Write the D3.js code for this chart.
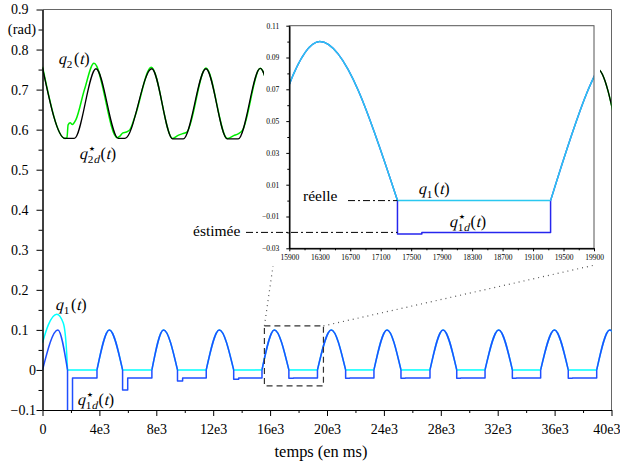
<!DOCTYPE html>
<meta charset="utf-8">
<style>
body { margin: 0; background: #fff; }
svg { display: block; }
svg text { font-family: "Liberation Serif", serif; }
.axis path, .axis line { stroke: #000; }
.curve { fill: none; stroke-linejoin: round; }
</style>
<body>
<script src="https://d3js.org/d3.v7.min.js"></script>
<script>
// ---- axis ticks ----
var yTicks = [-0.1, 0, 0.1, 0.2, 0.3, 0.4, 0.5, 0.6, 0.7, 0.8, 0.9];
var yTickLabels = ["\u22120.1", "0", "0.1", "0.2", "0.3", "0.4", "0.5", "0.6", "0.7", "0.8", "0.9"];
var xTicks = [0, 4000, 8000, 12000, 16000, 20000, 24000, 28000, 32000, 36000, 40000];
var xTickLabels = ["0", "4e3", "8e3", "12e3", "16e3", "20e3", "24e3", "28e3", "32e3", "36e3", "40e3"];
var insetXTicks = [15900, 16300, 16700, 17100, 17500, 17900, 18300, 18700, 19100, 19500, 19900];
var insetYTicks = [-0.03, -0.01, 0.01, 0.03, 0.05, 0.07, 0.09, 0.11];
var insetYLabels = ["\u22120.03", "\u22120.01", "0.01", "0.03", "0.05", "0.07", "0.09", "0.11"];

// ---- q1 / q1d* : bumps (ms) and levels (rad) ----
var bumpStart = [0, 3830, 7690, 11510, 15430, 19330, 23300, 27240, 31110, 35020, 38960];
var bumpPeak  = [1080, 4700, 8510, 12430, 16300, 20300, 24220, 28160, 32070, 35990, 39880];
var bumpEnd   = [1760, 5630, 9490, 13440, 17320, 21310, 25200, 29120, 33030, 36960, 40900];
var bumpTop   = 0.1;
// q1d* after each bump: short dip, then flat level until next bump
var dipLevel  = [-0.3, -0.05, -0.0275, -0.023, -0.021, -0.0205, -0.0205, -0.0205, -0.0205, -0.0205];
var dipEnd    = [2110, 5990, 9850, 13790, 17640, 21600, 25500, 29400, 33300, 37250];
var flatLevel = [-0.02, -0.02, -0.02, -0.02, -0.02, -0.02, -0.02, -0.02, -0.02, -0.02];
// real q1 during first bump
var q1FirstT = [0, 410, 1000, 1460, 1700, 1760];
var q1FirstV = [0.068, 0.1125, 0.139, 0.117, 0.042, 0];

// ---- q2d* (black) key points ----
var q2dT = [0, 1580, 2235, 3760, 5330, 5800, 7680, 9150, 9900, 11490, 12990, 13760, 15310,
            16870, 17600, 19220, 20790, 21520, 23170, 24740, 25470, 27120, 28690, 29420,
            31070, 32640, 33370, 35030, 36600, 37330, 39000, 40500];
var q2dV = [0.754, 0.578, 0.578, 0.752, 0.578, 0.578, 0.752, 0.577, 0.577, 0.752, 0.577, 0.577, 0.753,
            0.577, 0.577, 0.752, 0.577, 0.577, 0.752, 0.577, 0.577, 0.752, 0.577, 0.577,
            0.752, 0.577, 0.577, 0.752, 0.577, 0.577, 0.752, 0.577];
// ---- q2 (green) key points, before the inset; follows q2d* afterwards ----
var q2T = [0, 1580, 1720, 1800, 1950, 2100, 2350, 2950, 3620, 5250, 5420, 5650, 5900, 6150, 6500,
           7650, 9150, 9500, 9850, 10150, 11490, 12990, 13440, 13780, 14050, 15310];
var q2V = [0.757, 0.578, 0.58, 0.612, 0.617, 0.613, 0.625, 0.70, 0.766, 0.58, 0.583, 0.592, 0.594, 0.60, 0.633,
           0.756, 0.578, 0.585, 0.59, 0.594, 0.754, 0.578, 0.585, 0.59, 0.598, 0.753];

// zoom window drawn on the main plot: t0, t1, v0, v1
var zoomBox = [15600, 19750, -0.04, 0.11];

var width = 620, height = 463;
var SERIF = "Liberation Serif";
var svg = d3.select("body").append("svg").attr("width", width).attr("height", height);

var x = d3.scaleLinear().domain([0, 40000]).range([42.5, 611.5]);
var y = d3.scaleLinear().domain([-0.1, 0.9]).range([410, 9.5]);

svg.append("clipPath").attr("id", "clipMain").append("rect")
    .attr("x", 42.5).attr("y", 9.5).attr("width", 569).attr("height", 400.5);

// frame (top / right)
svg.append("path").attr("d", "M42.5,9.5H611.5V410").attr("fill", "none").attr("stroke", "#666");

var BLUE = "#1f4fff", CYAN = "#00ffff";

function pts(ts, vs) { return ts.map(function(t, i) { return [t, vs[i]]; }); }

function drawAll(g, sx, sy, blueOnTop, blue, cyan, w) {
  var smooth = d3.line().x(function(d) { return sx(d[0]); }).y(function(d) { return sy(d[1]); })
      .curve(d3.curveMonotoneX);
  var step = d3.line().x(function(d) { return sx(d[0]); }).y(function(d) { return sy(d[1]); })
      .curve(d3.curveStepAfter);

  var bumps = bumpStart.map(function(s, i) { return [[s, 0], [bumpPeak[i], bumpTop], [bumpEnd[i], 0]]; });

  function drawBlue() {
    bumps.forEach(function(b) {
      g.append("path").attr("class", "curve").attr("d", smooth(b)).attr("stroke", blue).attr("stroke-width", w);
    });
    dipLevel.forEach(function(dl, i) {
      var p = [[bumpEnd[i], 0], [bumpEnd[i], dl], [dipEnd[i], flatLevel[i]], [bumpStart[i + 1], 0]];
      g.append("path").attr("class", "curve").attr("d", step(p)).attr("stroke", blue).attr("stroke-width", w);
    });
  }
  function drawCyan() {
    g.append("path").attr("class", "curve").attr("d", smooth(pts(q1FirstT, q1FirstV)))
        .attr("stroke", cyan).attr("stroke-width", w);
    bumps.forEach(function(b, i) {
      if (i > 0) g.append("path").attr("class", "curve").attr("d", smooth(b)).attr("stroke", cyan).attr("stroke-width", w);
    });
    bumpEnd.forEach(function(e, i) {
      if (i + 1 < bumpStart.length)
        g.append("path").attr("class", "curve").attr("d", smooth([[e, 0], [bumpStart[i + 1], 0]]))
            .attr("stroke", cyan).attr("stroke-width", w);
    });
  }
  if (blueOnTop) { drawCyan(); drawBlue(); } else { drawBlue(); drawCyan(); }
}

// ---- main curves ----
var main = svg.append("g").attr("clip-path", "url(#clipMain)");
var line = d3.line().x(function(d) { return x(d[0]); }).y(function(d) { return y(d[1]); })
    .curve(d3.curveMonotoneX);

var green = pts(q2T, q2V).concat(pts(q2dT, q2dV).filter(function(d) { return d[0] > 15310; }));
main.append("path").attr("class", "curve").attr("d", line(green)).attr("stroke", "#00ee00").attr("stroke-width", 1.5);
main.append("path").attr("class", "curve").attr("d", line(pts(q2dT, q2dV))).attr("stroke", "#000").attr("stroke-width", 1.3);

drawAll(main, x, y, true, BLUE, CYAN, 1.5);

// ---- main axes ----
var yAxis = svg.append("g").attr("class", "axis").attr("transform", "translate(42.5,0)")
    .attr("font-family", SERIF)
    .call(d3.axisLeft(y).tickValues(yTicks).tickSize(6).tickSizeOuter(0).tickPadding(8)
      .tickFormat(function(d, i) { return yTickLabels[i]; }));
svg.append("g").attr("class", "axis").attr("transform", "translate(42.5,0)")
    .call(d3.axisLeft(y).tickValues(d3.range(-0.05, 0.9, 0.1)).tickSize(4).tickSizeOuter(0).tickFormat(""));
yAxis.selectAll("text").attr("font-size", 14)
    .attr("x", function(d) { return d > 0 ? -14 : -6.5; });
var xAxis = svg.append("g").attr("class", "axis").attr("transform", "translate(0,410)")
    .attr("font-family", SERIF);
xAxis.call(d3.axisBottom(x).tickValues(xTicks).tickSize(6).tickSizeOuter(0).tickPadding(8)
    .tickFormat(function(d, i) { return xTickLabels[i]; }));
svg.append("g").attr("class", "axis").attr("transform", "translate(0,410)")
    .call(d3.axisBottom(x).tickValues(d3.range(2000, 40000, 4000)).tickSize(3).tickSizeOuter(0).tickFormat(""));
xAxis.selectAll("text").attr("font-size", 14)
    .attr("text-anchor", function(d) { return d === 40000 ? "end" : "middle"; })
    .attr("x", function(d) { return d === 40000 ? 8.5 : 0; });

svg.append("text").attr("x", 36).attr("y", 34).attr("text-anchor", "end")
    .attr("font-size", 14.5).text("(rad)");
svg.append("text").attr("x", 321).attr("y", 457).attr("text-anchor", "middle")
    .attr("font-size", 16.4).text("temps (en ms)");

// ---- zoom window + connectors ----
svg.append("rect").attr("x", x(zoomBox[0])).attr("y", y(zoomBox[3]))
    .attr("width", x(zoomBox[1]) - x(zoomBox[0])).attr("height", y(zoomBox[2]) - y(zoomBox[3]))
    .attr("fill", "none").attr("stroke", "#333").attr("stroke-width", 1.2).attr("stroke-dasharray", "6,4");

// ---- inset ----
var ix = d3.scaleLinear().domain([15900, 19900]).range([289.3, 594]);
var iy = d3.scaleLinear().domain([-0.03, 0.11]).range([248.3, 25.7]);

svg.append("line").attr("x1", x(zoomBox[0])).attr("y1", y(zoomBox[3])).attr("x2", 273).attr("y2", 266)
    .attr("stroke", "#555").attr("stroke-width", 1.2).attr("stroke-dasharray", "1,4");
svg.append("line").attr("x1", x(zoomBox[1])).attr("y1", y(zoomBox[3])).attr("x2", 595).attr("y2", 265)
    .attr("stroke", "#555").attr("stroke-width", 1.2).attr("stroke-dasharray", "1,4");

svg.append("rect").attr("x", 264).attr("y", 12).attr("width", 336).attr("height", 253).attr("fill", "#fff");

svg.append("clipPath").attr("id", "clipInset").append("rect")
    .attr("x", 289.3).attr("y", 25.7).attr("width", 594 - 289.3).attr("height", 248.3 - 25.7);
var inset = svg.append("g").attr("clip-path", "url(#clipInset)");
drawAll(inset, ix, iy, false, "#2626ee", "#2ac8f0", 1.5);

svg.append("rect").attr("x", 289.3).attr("y", 25.7).attr("width", 594 - 289.3).attr("height", 248.3 - 25.7)
    .attr("fill", "none").attr("stroke", "#555");

var ixAxis = svg.append("g").attr("class", "axis").attr("transform", "translate(0,248.3)")
    .attr("font-family", SERIF)
    .call(d3.axisBottom(ix).tickValues(insetXTicks).tickSize(3).tickSizeOuter(0).tickPadding(3)
      .tickFormat(d3.format("d")));
svg.append("g").attr("class", "axis").attr("transform", "translate(0,248.3)")
    .call(d3.axisBottom(ix).tickValues(d3.range(16100, 19900, 400)).tickSize(2).tickSizeOuter(0).tickFormat(""));
ixAxis.selectAll("text").attr("font-size", 7.5);
var iyAxis = svg.append("g").attr("class", "axis").attr("transform", "translate(289.3,0)")
    .attr("font-family", SERIF)
    .call(d3.axisLeft(iy).tickValues(insetYTicks).tickSize(3).tickSizeOuter(0).tickPadding(7)
      .tickFormat(function(d, i) { return insetYLabels[i]; }));
svg.append("g").attr("class", "axis").attr("transform", "translate(289.3,0)")
    .call(d3.axisLeft(iy).tickValues(d3.range(-0.02, 0.11, 0.02)).tickSize(2).tickSizeOuter(0).tickFormat(""));
iyAxis.selectAll("text").attr("font-size", 7.5);

// dash-dot markers
svg.append("line").attr("x1", 348).attr("x2", ix(bumpEnd[4])).attr("y1", iy(0)).attr("y2", iy(0))
    .attr("stroke", "#000").attr("stroke-dasharray", "7,3,2,3");
svg.append("line").attr("x1", 246).attr("x2", ix(bumpEnd[4])).attr("y1", iy(-0.02)).attr("y2", iy(-0.02))
    .attr("stroke", "#000").attr("stroke-dasharray", "7,3,2,3");
svg.append("text").attr("x", 303).attr("y", 201).attr("font-size", 15.5).text("réelle");
svg.append("text").attr("x", 193).attr("y", 236).attr("font-size", 15.5).text("éstimée");

// ---- math labels (serif italic is not installed: slant the upright face) ----
function glyph(g, x0, y0, str, size, slant) {
  var t = g.append("text").attr("font-size", size)
      .attr("transform", "translate(" + x0 + "," + y0 + ")" + (slant ? " skewX(-14)" : ""))
      .text(str);
  return t.node().getComputedTextLength();
}
function mathLabel(x0, y0, num, d, star, size) {
  var g = svg.append("g");
  var cx = x0 + glyph(g, x0, y0, "q", size, true) + 0.8;
  var ss = size * 0.7, sy = y0 + size * 0.27;
  var w = glyph(g, cx, sy, num, ss, false);
  if (d) w += glyph(g, cx + w, sy, "d", ss, true);
  if (star) {
    var st = g.append("text").attr("x", cx).attr("y", y0 - size * 0.36)
        .attr("font-size", ss * 1.2).style("font-family", "DejaVu Sans").text("\u22C6");
    w = Math.max(w, st.node().getComputedTextLength());
  }
  cx += w + 1.5;
  cx += glyph(g, cx, y0, "(", size, false);
  cx += glyph(g, cx, y0, "t", size, true) + 0.5;
  glyph(g, cx, y0, ")", size, false);
}
mathLabel(58, 64, "2", false, false, 16);
mathLabel(79, 159, "2", true, true, 16);
mathLabel(55, 310, "1", false, false, 16);
mathLabel(77, 405, "1", true, true, 16);
mathLabel(418, 194, "1", false, false, 16);
mathLabel(449, 227, "1", true, true, 16);
</script>
